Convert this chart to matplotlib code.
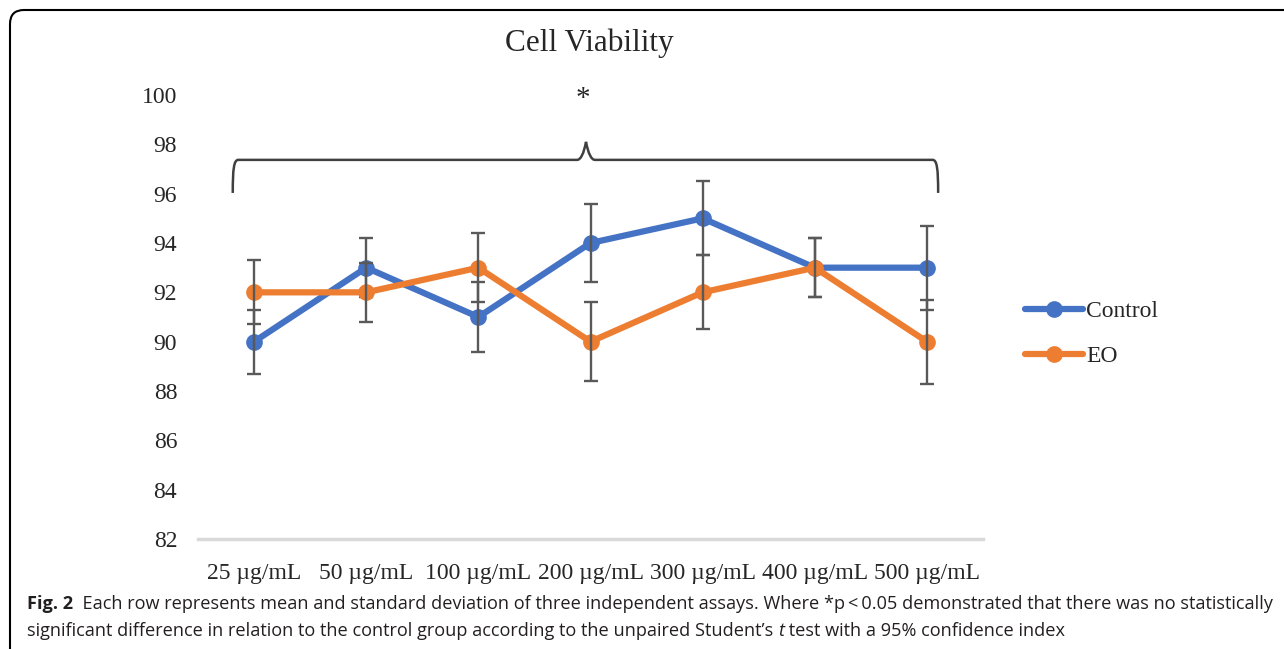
import matplotlib
matplotlib.use("Agg")
import matplotlib.pyplot as plt
from matplotlib.path import Path
from matplotlib.patches import PathPatch

# ---- data ----
categories = ["25 µg/mL", "50 µg/mL", "100 µg/mL", "200 µg/mL",
              "300 µg/mL", "400 µg/mL", "500 µg/mL"]
control = [90, 93, 91, 94, 95, 93, 93]
control_sd = [1.3, 1.2, 1.4, 1.6, 1.5, 1.2, 1.7]
eo = [92, 92, 93, 90, 92, 93, 90]
eo_sd = [1.3, 1.2, 1.4, 1.6, 1.5, 1.2, 1.7]
yticks = [82, 84, 86, 88, 90, 92, 94, 96, 98, 100]
title = "Cell Viability"
series_names = ["Control", "EO"]

BLUE = "#4472C4"
ORANGE = "#ED7D31"
ERR = "#595959"
SERIF = ["Liberation Serif", "DejaVu Serif"]
SANS = ["Open Sans", "DejaVu Sans"]

W, H = 1284, 649
fig = plt.figure(figsize=(W / 100, H / 100), dpi=100)
fig.patch.set_facecolor("white")

def fx(px):
    return px / W

def fy(py):
    return 1 - py / H

# axes placement (pixels): left 198, right 983, top 95 (y=100), bottom 539 (y=82)
ax = fig.add_axes([fx(198), fy(539), fx(983) - fx(198), fy(95) - fy(539)])
x = list(range(len(categories)))

ax.plot(x, control, color=BLUE, lw=4.5, marker="o", ms=11, zorder=3,
        label=series_names[0], solid_capstyle="round")
ax.errorbar(x, control, yerr=control_sd, fmt="none", ecolor=ERR,
            elinewidth=1.7, capsize=5, capthick=1.7, zorder=4)
ax.plot(x, eo, color=ORANGE, lw=4.5, marker="o", ms=11, zorder=5,
        label=series_names[1], solid_capstyle="round")
ax.errorbar(x, eo, yerr=eo_sd, fmt="none", ecolor=ERR,
            elinewidth=1.7, capsize=5, capthick=1.7, zorder=6)

ax.set_xlim(-0.5, len(categories) - 0.5)
ax.set_ylim(82, 100)
ax.set_yticks(yticks)
ax.set_yticklabels([str(v) for v in yticks], fontfamily=SERIF, fontsize=17)
ax.set_xticks(x)
ax.set_xticklabels(categories, fontfamily=SERIF, fontsize=17)
ax.tick_params(axis="both", length=0, colors="#262626")
ax.tick_params(axis="y", pad=15)
ax.tick_params(axis="x", pad=17)
for s in ["top", "right", "left"]:
    ax.spines[s].set_visible(False)
ax.spines["bottom"].set_color("#D9D9D9")
ax.spines["bottom"].set_linewidth(2.5)

# title
fig.text(fx(589), fy(43), title, ha="center", va="center",
         fontfamily=SERIF, fontsize=22.5, color="#262626")

# significance brace (data coords)
bx0, bx1, btip = -0.19, 6.1, 2.96
by_end, by_mid, by_tip = 96.03, 97.37, 98.1
r = 0.05
verts = [
    (bx0, by_end), (bx0, by_mid - 0.35), (bx0 + 0.01, by_mid), (bx0 + r, by_mid),
    (btip - 0.08, by_mid), (btip - 0.03, by_mid), (btip, by_tip),
    (btip + 0.03, by_mid), (btip + 0.08, by_mid),
    (bx1 - r, by_mid), (bx1 - 0.01, by_mid), (bx1, by_mid - 0.35), (bx1, by_end),
]
codes = [Path.MOVETO, Path.CURVE4, Path.CURVE4, Path.CURVE4,
         Path.LINETO, Path.CURVE3, Path.CURVE3,
         Path.CURVE3, Path.CURVE3,
         Path.LINETO, Path.CURVE4, Path.CURVE4, Path.CURVE4]
ax.add_patch(PathPatch(Path(verts, codes), fill=False, edgecolor="#404040",
                       lw=1.8, clip_on=False))
ax.text(btip - 0.03, 99.85, "*", ha="center", va="center", fontsize=21,
        fontfamily=SERIF, color="#262626", clip_on=False)

# legend
leg = fig.legend(loc="center left", bbox_to_anchor=(fx(1025), fy(334)),
                 frameon=False, prop={"family": SERIF, "size": 17},
                 handlelength=2.45, handletextpad=0.15, labelspacing=1.0,
                 borderaxespad=0, borderpad=0)
for t in leg.get_texts():
    t.set_color("#262626")

# border (top + left, rounded corner)
rad = 14
bverts = [(fx(1284), fy(10)), (fx(10 + rad), fy(10)), (fx(10), fy(10)),
          (fx(10), fy(10 + rad)), (fx(10), fy(649))]
bcodes = [Path.MOVETO, Path.LINETO, Path.CURVE3, Path.CURVE3, Path.LINETO]
fig.add_artist(PathPatch(Path(bverts, bcodes), fill=False, edgecolor="black",
                         lw=1.5, transform=fig.transFigure))

# caption
cap_fs = 13.1
CAPC = "#231F20"
t1 = fig.text(fx(27), fy(604), "Fig. 2", fontfamily=SANS, fontsize=cap_fs,
              fontweight="bold", va="center", ha="left", color=CAPC)
ax.annotate("  Each row represents mean and standard deviation of three independent assays. "
            "Where *p\u2009<\u20090.05 demonstrated that there was no statistically",
            xy=(1, 0), xycoords=t1, va="bottom", ha="left",
            fontfamily=SANS, fontsize=cap_fs, color=CAPC, annotation_clip=False)
p1 = fig.text(fx(27), fy(631),
              "significant difference in relation to the control group according to the unpaired Student\u2019s ",
              fontfamily=SANS, fontsize=cap_fs, va="center", ha="left", color=CAPC)
p2 = ax.annotate("t", xy=(1, 0), xycoords=p1, va="bottom", ha="left",
                 fontfamily=SANS, fontsize=cap_fs, fontstyle="italic",
                 color=CAPC, annotation_clip=False)
ax.annotate(" test with a 95% confidence index", xy=(1, 0), xycoords=p2,
            va="bottom", ha="left", fontfamily=SANS, fontsize=cap_fs,
            color=CAPC, annotation_clip=False)

fig.savefig("out.png", dpi=100)
